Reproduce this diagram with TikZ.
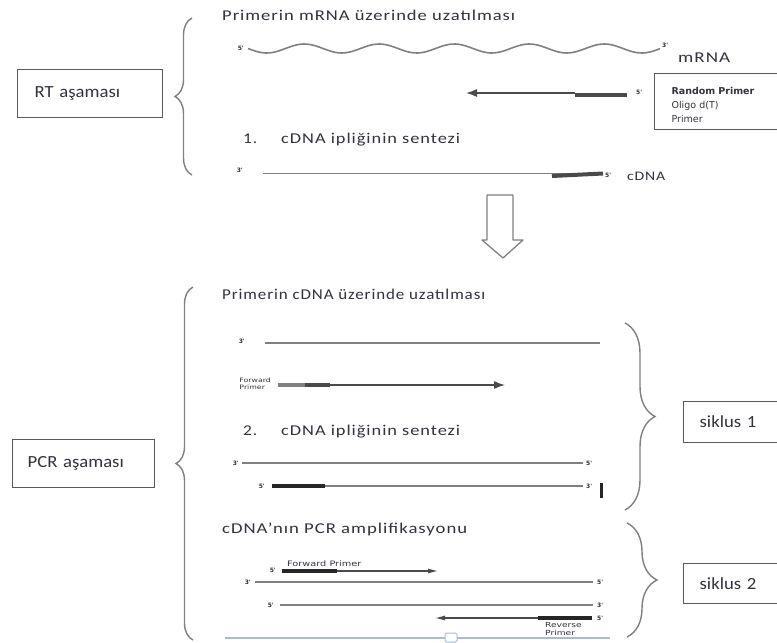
\documentclass[tikz,border=0pt]{standalone}
\usepackage{fontspec}
\usepackage{graphicx}
\setmainfont{Carlito}
\newfontfamily\headfont[FakeStretch=1.15,LetterSpace=6]{Carlito}
\newfontfamily\boxfont[FakeStretch=1.1]{Carlito}
\newfontfamily\labelfont{DejaVu Sans}
\newfontfamily\widefont[FakeStretch=1.3]{DejaVu Sans}
\usetikzlibrary{arrows.meta,decorations.pathreplacing}

% stretch a line of text to a given width, keeping its height
\newcommand{\fitwidth}[2]{\resizebox{#1}{\height}{#2}}

\definecolor{ink}{HTML}{35303C}
\definecolor{strandgray}{HTML}{808080}
\definecolor{bargray}{HTML}{4A4A4A}
\definecolor{framegray}{HTML}{5A5A5A}
\definecolor{selblue}{HTML}{A7BBD3}

\tikzset{
  heading/.style={anchor=base west, inner sep=0pt, text=ink, font=\headfont\fontsize{15}{17}\selectfont},
  stagebox/.style={draw=framegray, line width=1.3pt, anchor=north west, align=left, text=ink,
    font=\boxfont\fontsize{17}{19}\selectfont},
  endmark/.style={inner sep=0pt, text=ink, font=\labelfont\bfseries\fontsize{6}{6}\selectfont},
  tinylabel/.style={inner sep=0pt, text=ink, align=left, font=\widefont\fontsize{7}{7}\selectfont},
  strand/.style={draw=strandgray, line width=1.6pt},
  primerbar/.style={draw=bargray, line width=4pt},
  ext/.style={draw=bargray, line width=1.3pt, -{Latex[length=11pt,width=8pt]}},
  bracket/.style={draw=strandgray, line width=1.4pt, decorate, decoration={brace, amplitude=#1}},
  bracket/.default=17pt,
}

\begin{document}
\begin{tikzpicture}[x=1pt,y=-1pt]
\useasboundingbox (0,0) rectangle (777,643);

% RT stage
\node[stagebox, minimum width=145pt, minimum height=48pt, inner xsep=17pt, text width=111pt] (rt) at (17,69) {RT aşaması};
\draw[bracket] (192,175) -- (192,18);
\node[heading] (rttitle) at (222,20) {\fitwidth{293pt}{Primerin mRNA üzerinde uzatılması}};

% mRNA template
\coordinate (mA) at (248,48.5);
\coordinate (mB) at (660,47);
\draw[strandgray, line width=1.6pt] plot[domain=248:660, samples=120, smooth] (\x, {48.5+4.5*sin((\x-248)*4.8)});
\node[endmark, anchor=east] (m5) at ([xshift=-4pt]mA) {5'};
\node[endmark, anchor=west] (m3) at ([xshift=2pt,yshift=2pt]mB) {3'};
\node[heading] (mrna) at (678,62) {\fitwidth{52pt}{mRNA}};

% primer on mRNA
\coordinate (pA) at (627,94.5);
\coordinate (pB) at (575,94.5);
\coordinate (pC) at (466,93);
\draw[primerbar] (pA) -- (pB);
\draw[ext] (575,93) -- (pC);
\node[endmark, anchor=west] (p5) at ([xshift=9pt,yshift=2pt]pA) {5'};
\node[stagebox, minimum width=140pt, minimum height=56pt, inner xsep=17pt, text width=106pt,
  font=\labelfont\fontsize{9.5}{14}\selectfont, line width=1.1pt] (primers) at (654,73)
  {\rule{0pt}{15pt}\textbf{Random Primer}\\Oligo d(T)\\Primer};

\node[heading] (step1) at (243,143) {1.\hspace{24pt}\fitwidth{179pt}{cDNA ipliğinin sentezi}};

% first cDNA strand
\coordinate (cA) at (263,173.5);
\coordinate (cB) at (603,173.5);
\draw[strand] (cA) -- (cB);
\draw[primerbar] (552,176) -- (cB);
\node[endmark, anchor=east] (c3) at ([xshift=-20pt,yshift=3pt]cA) {3'};
\node[endmark, anchor=west] (c5) at ([xshift=2pt,yshift=-2pt]cB) {5'};
\node[heading, font=\headfont\fontsize{13}{15}\selectfont] (cdna) at (627,180) {\fitwidth{38pt}{cDNA}};

% hollow arrow between stages
\draw[strandgray, line width=1.3pt, line join=round, fill=white]
  (487,195) -- (513,195) -- (513,240) -- (523,240) -- (503,258) -- (482,240) -- (487,240) -- cycle;

% PCR stage
\node[stagebox, minimum width=142pt, minimum height=48pt, inner xsep=15pt, text width=112pt] (pcr) at (12,439) {PCR aşaması};
\draw[bracket] (193,640) -- (193,287);
\node[heading] (pcrtitle) at (222,299) {\fitwidth{263pt}{Primerin cDNA üzerinde uzatılması}};

% cycle 1
\coordinate (t1A) at (265,343);
\coordinate (t1B) at (600,343);
\draw[strand] (t1A) -- (t1B);
\node[endmark, anchor=east] (t13) at ([xshift=-20pt,yshift=2pt]t1A) {3'};

\coordinate (f1A) at (278,385);
\coordinate (f1B) at (505,385);
\draw[ext] (f1A) -- (f1B);
\draw[bargray!70, line width=4pt] (f1A) -- (305,385);
\draw[bargray, line width=4pt] (305,385) -- (330,385);
\node[tinylabel, anchor=east, font=\widefont\fontsize{6}{7.5}\selectfont] (fwd1) at ([xshift=-7pt,yshift=1pt]f1A) {Forward\\Primer};

\node[heading] (step2) at (243,435) {2.\hspace{24pt}\fitwidth{179pt}{cDNA ipliğinin sentezi}};

\coordinate (s1A) at (242,463);
\coordinate (s1B) at (583,463);
\draw[strand] (s1A) -- (s1B);
\node[endmark, anchor=east] (s13) at ([xshift=-3pt]s1A) {3'};
\node[endmark, anchor=west] (s15) at ([xshift=3pt]s1B) {5'};

\coordinate (s2A) at (272,486);
\coordinate (s2B) at (583,486);
\draw[strand] (s2A) -- (s2B);
\draw[primerbar, draw=black!85] (s2A) -- (325,486);
\node[endmark, anchor=east] (s25) at ([xshift=-7pt]s2A) {5'};
\node[endmark, anchor=west] (s23) at ([xshift=3pt]s2B) {3'};
\draw[black!85, line width=3pt] (601,483) -- (601,498);

\draw[bracket=30pt] (625,323) -- (625,510);
\node[stagebox, minimum width=110pt, minimum height=41pt, inner xsep=16pt, text width=78pt] (cyc1) at (683,401) {siklus 1};

% cycle 2
\node[heading] (amptitle) at (222,533) {\fitwidth{245pt}{cDNA’nın PCR amplifikasyonu}};

\coordinate (f2A) at (282,571);
\coordinate (f2B) at (438,571);
\draw[ext, line width=1.1pt, -{Latex[length=10pt,width=5pt]}] (f2A) -- (f2B);
\draw[primerbar, draw=black!85, line width=3.5pt] (f2A) -- (337,571);
\node[endmark, anchor=east] (f25) at ([xshift=-6pt,yshift=1pt]f2A) {5'};
\node[tinylabel, anchor=base west, font=\widefont\fontsize{7.5}{8}\selectfont] (fwd2) at (287,566) {Forward Primer};

\coordinate (u1A) at (255,582);
\coordinate (u1B) at (593,582);
\draw[strand] (u1A) -- (u1B);
\node[endmark, anchor=east] (u13) at ([xshift=-4pt]u1A) {3'};
\node[endmark, anchor=west] (u15) at ([xshift=4pt]u1B) {5'};

\coordinate (u2A) at (280,605);
\coordinate (u2B) at (593,605);
\draw[strand] (u2A) -- (u2B);
\node[endmark, anchor=east] (u25) at ([xshift=-6pt]u2A) {5'};
\node[endmark, anchor=west] (u23) at ([xshift=4pt]u2B) {3'};

\coordinate (r2A) at (592,618);
\coordinate (r2B) at (435,618);
\draw[ext, line width=1.1pt, -{Latex[length=10pt,width=5pt]}] (r2A) -- (r2B);
\draw[primerbar, draw=black!85, line width=3.5pt] (r2A) -- (538,618);
\node[endmark, anchor=west] (r25) at ([xshift=5pt]r2A) {5'};
\node[tinylabel, anchor=north west, font=\widefont\fontsize{7}{8}\selectfont] (rev2) at (545,622) {Reverse\\Primer};

\draw[bracket=30pt] (627,523) -- (627,637);
\node[stagebox, minimum width=110pt, minimum height=40pt, inner xsep=16pt, text width=78pt] (cyc2) at (683,563) {siklus 2};

% selection rule at the foot of the page
\draw[selblue, line width=1.6pt] (225,638) -- (610,638);
\draw[selblue, line width=1pt, fill=white, rounded corners=1.5pt] (445,633) rectangle (457,642);
\end{tikzpicture}
\end{document}
